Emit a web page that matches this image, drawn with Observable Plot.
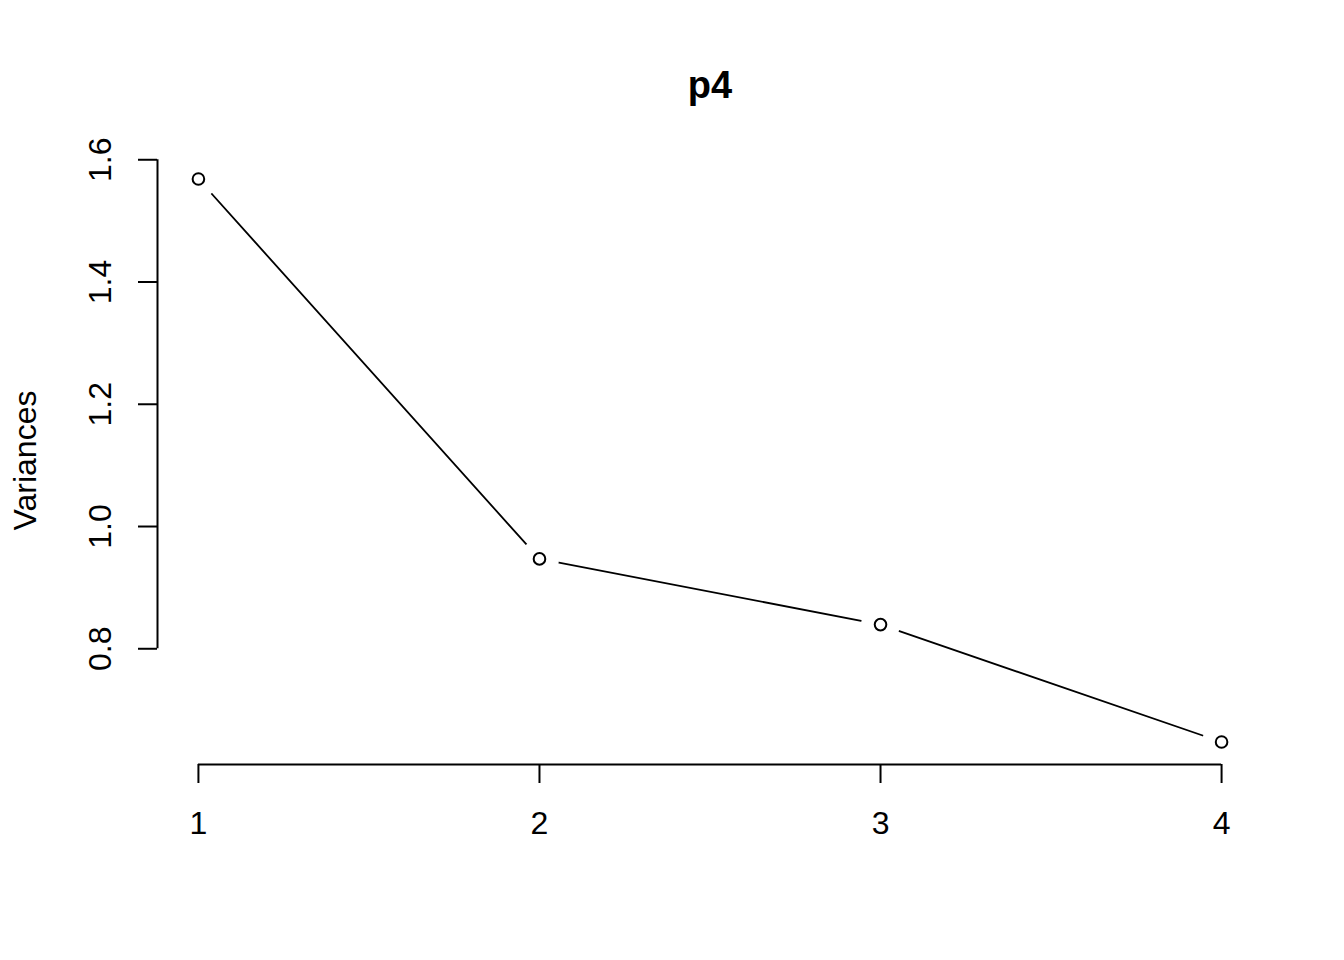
<!DOCTYPE html>
<html>
<head>
<meta charset="utf-8">
<script src="https://cdn.jsdelivr.net/npm/d3@7"></script>
<script src="https://cdn.jsdelivr.net/npm/@observablehq/plot@0.6"></script>
<style>
  html, body { margin: 0; padding: 0; background: #fff; }
</style>
</head>
<body>
<div id="chart"></div>
<script>
const components = [1, 2, 3, 4];
const variances = [1.5685, 0.947, 0.8395, 0.6475];
const yTicks = [0.8, 1.0, 1.2, 1.4, 1.6];
const xTicks = [1, 2, 3, 4];
const title = "p4";
const yLabel = "Variances";

const data = components.map((c, i) => ({pc: c, v: variances[i]}));

// R-style 4% padding
const pad = (lo, hi) => { const r = hi - lo; return [lo - 0.04 * r, hi + 0.04 * r]; };
const xDomain = pad(d3.min(components), d3.max(components));
const yDomain = pad(d3.min(variances), d3.max(variances));

const font = "'Liberation Sans', Arial, sans-serif";

const chart = Plot.plot({
  width: 1344,
  height: 960,
  marginLeft: 157,
  marginRight: 82,
  marginTop: 156,
  marginBottom: 196,
  style: {fontFamily: font, fontSize: "32px", color: "black", background: "white"},
  x: {type: "linear", domain: xDomain, axis: null},
  y: {type: "linear", domain: yDomain, axis: null},
  marks: [
    // y axis line (only across tick range)
    Plot.ruleX([xDomain[0]], {x: d => d, y1: d3.min(yTicks), y2: d3.max(yTicks), stroke: "black", strokeWidth: 2}),
    // x axis line (only across tick range)
    Plot.ruleY([yDomain[0]], {y: d => d, x1: d3.min(xTicks), x2: d3.max(xTicks), stroke: "black", strokeWidth: 2}),
    // ticks
    Plot.axisX({ticks: xTicks, tickSize: 19, tickFormat: () => "", strokeWidth: 2, stroke: "black", label: null}),
    Plot.axisY({ticks: yTicks, tickSize: 19, tickFormat: () => "", strokeWidth: 2, stroke: "black", label: null}),
    // tick labels
    Plot.text(yTicks, {y: d => d, text: d => d.toFixed(1), frameAnchor: "left", dx: -57, rotate: -90, textAnchor: "middle", lineAnchor: "middle", fontSize: 32, fill: "black"}),
    Plot.text(xTicks, {x: d => d, text: d => String(d), frameAnchor: "bottom", dy: 59, textAnchor: "middle", lineAnchor: "middle", fontSize: 32, fill: "black"}),
    // data line with gaps at points (type = "b")
    Plot.line(data, {x: "pc", y: "v", stroke: "black", strokeWidth: 1.8}),
    Plot.dot(data, {x: "pc", y: "v", r: 19.5, fill: "white", stroke: null}),
    Plot.dot(data, {x: "pc", y: "v", r: 5.8, fill: "none", stroke: "black", strokeWidth: 2}),
    // title and axis label
    Plot.text([title], {frameAnchor: "top", dy: -71, text: d => d, fontWeight: "bold", fontSize: 38, lineAnchor: "middle", fill: "black"}),
    Plot.text([yLabel], {frameAnchor: "left", dx: -132, text: d => d, rotate: -90, fontSize: 32, textAnchor: "middle", lineAnchor: "middle", fill: "black"})
  ]
});

document.getElementById("chart").appendChild(chart);
</script>
</body>
</html>
